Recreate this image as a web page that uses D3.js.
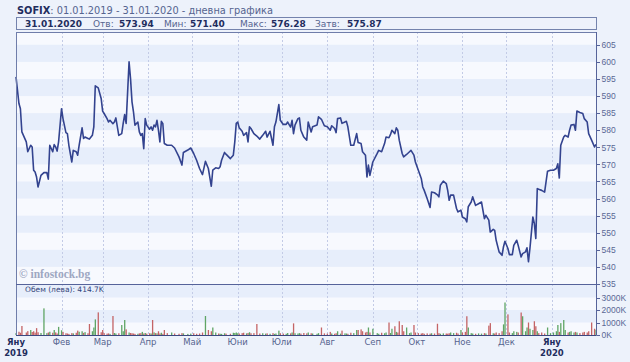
<!DOCTYPE html>
<html lang="bg">
<head>
    <meta charset="UTF-8">
    <title>SOFIX - дневна графика</title>
    <style>
        body {
            margin: 0;
            background-color: #edf2fb;
            font-family: "DejaVu Sans", Verdana, sans-serif;
        }
        .axis text {
            font-size: 8.5px;
            fill: #5a6895;
        }
        .axis line, .axis path {
            stroke: #56639a;
            shape-rendering: crispEdges;
        }
        .grid line {
            stroke: #c3cbe6;
            stroke-dasharray: 2,2;
            shape-rendering: crispEdges;
        }
    </style>
    <script src="https://d3js.org/d3.v7.min.js"></script>
</head>
<body>
<div id="chart"></div>

<script>
    // days counted from 01.01.2019
    var dayOffsets = [
        0, 2, 3, 4, 7, 8, 10, 11, 12, 13, 14, 15, 17, 19, 21, 22, 23, 25, 26, 27, 28, 29, 31, 32, 34, 35, 36, 38, 39, 41,
        42, 43, 45, 46, 47, 49, 50, 52, 53, 54, 56, 58, 59, 60, 62, 63, 64, 66, 67, 68, 70, 72, 73, 74, 75, 77, 78, 79, 80, 81,
        83, 84, 85, 86, 87, 88, 89, 91, 92, 93, 94, 95, 96, 97, 98, 99, 100,
        101, 103, 106, 108, 111, 113, 114, 117, 119, 121, 123, 125, 127, 129, 131, 133, 134, 136, 138, 139, 140, 142, 143, 146,
        148, 149, 150, 151, 152, 154, 155, 157, 158, 159, 160, 162, 164, 166, 168, 170, 171, 173, 175, 176, 177, 179, 180, 182, 184,
        185, 187, 188, 189, 190, 192, 193, 194, 196, 198, 199,
        201, 202, 205, 206, 208, 210, 212, 214, 215, 217, 218, 219, 221, 222, 224, 225, 226, 228, 230, 232, 233, 235, 236, 238, 239,
        240, 241, 243, 246, 247, 249, 251, 252, 254, 255, 256, 258, 259, 260, 261, 263, 264, 266, 268, 269, 271, 272, 274, 276, 277,
        278, 280, 282, 283, 285, 287, 288, 289, 291, 293, 294, 295, 296, 298,
        300, 301, 303, 304, 306, 307, 308, 310, 311, 313, 315, 317, 319, 320, 322, 323, 325, 326, 327, 329, 331, 332, 333, 335, 336,
        338, 339, 341, 342, 344, 345, 347, 348, 349, 350, 352, 353, 354, 355, 356, 358, 360, 362, 364, 366, 368, 369, 370, 371, 373,
        374, 376, 377, 378, 380, 381, 382, 384, 386, 387, 389, 390, 392, 394, 395
    ];
    var closes = [
        595.6, 587.8, 586.3, 579.5, 576.6, 573.7, 575.6, 575.1, 568.3, 567.8, 566.3, 563.4, 566.8, 567.6, 567.6, 565.7, 575.6, 573.7, 575.8, 575.1, 573.9, 576.6, 586.3, 583.4, 579.3, 579.0, 575.6, 570.7, 574.1, 573.7,
        572.7, 575.6, 580.7, 577.6, 578.0, 577.6, 577.4, 578.5, 581.0, 593.0, 592.4, 589.3, 585.6, 584.9, 583.4, 582.4, 582.9, 581.9, 582.4, 583.6, 578.5, 579.0, 582.0, 584.6, 582.0, 600.0, 595.1, 588.3, 585.4, 581.5,
        582.4, 579.5, 578.5, 579.0, 574.6, 583.4, 581.5, 580.3, 581.0, 580.0, 581.5, 581.0, 582.9, 580.0, 576.6, 582.6, 581.9,
        576.1, 575.6, 575.6, 574.8, 572.2, 569.8, 573.5, 574.2, 574.8, 573.2, 571.2, 568.8, 567.0, 570.9, 568.8, 563.6, 568.3, 569.0, 568.8, 569.3, 571.2, 573.5, 573.0, 571.7,
        572.7, 576.6, 582.0, 582.4, 580.7, 579.7, 578.5, 579.3, 576.6, 581.0, 580.5, 579.0, 578.3, 577.4, 578.5, 579.7, 578.0, 579.7, 575.6, 581.0, 582.4, 587.5, 582.9, 581.7, 581.7,
        582.4, 580.9, 582.9, 579.0, 581.5, 583.4, 583.6, 580.0, 578.0, 577.1, 582.4,
        579.5, 581.0, 581.5, 583.9, 583.2, 581.3, 581.0, 580.0, 581.3, 580.5, 579.3, 583.4, 583.6, 582.0, 582.4, 582.6, 581.0, 575.6, 575.6, 579.0, 576.4, 576.1, 573.7, 572.7, 566.3,
        569.8, 566.8, 570.7, 573.2, 574.1, 573.7, 576.1, 578.0, 577.8, 578.7, 580.0, 579.0, 580.7, 580.0, 577.1, 573.2, 572.2, 572.9, 573.7, 574.1, 572.7, 570.7, 568.3, 565.9, 563.4,
        562.4, 560.0, 557.4, 561.9, 561.7, 561.1, 560.5, 563.9, 565.1, 564.4, 562.4, 559.5, 561.0, 561.0,
        557.1, 556.1, 556.6, 554.6, 554.1, 553.2, 557.6, 559.0, 560.5, 558.0, 558.5, 559.0, 554.1, 555.1, 553.7, 550.2, 551.0, 550.7, 547.8, 544.4, 543.4, 545.9, 547.5, 545.4, 543.6,
        543.6, 546.3, 547.8, 546.3, 542.9, 543.9, 544.4, 545.6, 541.5, 545.4, 554.6, 552.7, 548.3, 562.9, 562.7, 562.4, 561.9, 568.0, 568.3, 568.3, 568.8, 570.2, 566.0, 575.6, 578.0,
        578.5, 578.0, 580.0, 581.5, 581.7, 580.0, 585.6, 585.2, 584.9, 583.4, 582.4, 579.0, 577.1, 575.1, 575.87
    ];
    // volume in thousands of leva
    var volumes = [
        150, 260, 180, 720, 200, 310, 400, 240, 300, 190, 550, 220, 160, 2130, 150, 200, 260, 180, 400, 210, 120, 650, 380, 250, 140, 120, 90, 150, 130, 180,
        350, 260, 300, 170, 230, 140, 880, 300, 600, 1250, 1810, 220, 400, 150, 110, 130, 90, 1520, 160, 120, 140, 800, 300, 1200, 450, 200, 160, 140, 120, 90,
        100, 130, 150, 250, 120, 160, 110, 140, 120, 1200, 210, 150, 130, 300, 120, 180, 90,
        400, 150, 200, 120, 100, 150, 130, 90, 110, 140, 100, 120, 200, 1520, 400, 300, 600, 200, 120, 100, 90, 140, 110, 100,
        180, 160, 200, 140, 120, 150, 180, 130, 160, 220, 140, 150, 880, 120, 140, 110, 130, 100, 150, 90, 120, 350, 140, 110, 100,
        160, 130, 200, 930, 140, 120, 150, 110, 160, 130, 200,
        140, 120, 100, 150, 600, 130, 110, 250, 120, 100, 140, 300, 110, 350, 130, 120, 100, 180, 150, 400, 400, 450, 300, 200, 250,
        600, 200, 500, 150, 100, 180, 140, 200, 1000, 160, 500, 700, 250, 200, 1100, 800, 300, 600, 150, 200, 800, 200, 150, 120, 150,
        100, 130, 110, 140, 120, 900, 150, 100, 130, 120, 110, 140, 200, 150,
        180, 120, 400, 200, 250, 1500, 600, 150, 120, 100, 130, 110, 150, 120, 750, 950, 140, 120, 200, 150, 300, 850, 2600, 1650, 200,
        150, 300, 250, 200, 1800, 1500, 300, 600, 1000, 500, 400, 1100, 700, 300, 150, 200, 120, 600, 150, 200, 300, 800, 250, 950, 1200,
        400, 200, 250, 300, 200, 250, 200, 150, 200, 250, 200, 300, 1000, 500, 414.7
    ];
    var monthLabels = ["Яну", "Фев", "Мар", "Апр", "Май", "Юни", "Юли", "Авг", "Сеп", "Окт", "Ное", "Дек", "Яну"];
    var yearLabels = ["2019", "2020"];
    var priceTicks = [535, 540, 545, 550, 555, 560, 565, 570, 575, 580, 585, 590, 595, 600, 605];
    var volumeTicks = [0, 1000, 2000, 3000];
    var headerDate = "31.01.2020";
    var headerNames = ["Отв:", "Мин:", "Макс:", "Затв:"];
    var headerValues = ["573.94", "571.40", "576.28", "575.87"];

    var navy = "#1f2d5e", soft = "#55648f";
    var W = 630, H = 362;
    var left = 16, right = 596, plotTop = 32, plotBottom = 284, volBottom = 335;

    var start = new Date(2019, 0, 1), end = new Date(2020, 0, 31);
    var data = dayOffsets.map(function (d, i) {
        return {date: d3.timeDay.offset(start, d), close: closes[i], vol: volumes[i],
            up: i === 0 ? true : closes[i] >= closes[i - 1]};
    });

    var x = d3.scaleTime().domain([start, end]).range([left, right]);
    var y = d3.scaleLinear().domain([535, 605]).range([plotBottom, 44.8]);
    var yv = d3.scaleLinear().domain([0, 4080]).range([volBottom, plotBottom]);

    var svg = d3.select("#chart").append("svg")
        .attr("width", W)
        .attr("height", H);

    // title
    var title = svg.append("text").attr("x", 17).attr("y", 13.5).style("font-size", "9.8px");
    title.append("tspan").attr("font-weight", "bold").attr("fill", navy).text("SOFIX");
    title.append("tspan").attr("fill", soft).text(": 01.01.2019 - 31.01.2020 - дневна графика");

    // header box with last day values
    svg.append("rect")
        .attr("x", left + 0.5).attr("y", 17.5)
        .attr("width", right - left).attr("height", 12)
        .attr("fill", "#eef2fb").attr("stroke", "#7483ad");
    var headX = [25, 93, 119, 164, 190, 240, 271, 315, 347];
    var headParts = [headerDate];
    headerNames.forEach(function (n, i) { headParts.push(n, headerValues[i]); });
    svg.append("g").selectAll("text")
        .data(headParts)
        .enter().append("text")
        .attr("x", function (d, i) { return headX[i]; })
        .attr("y", 27)
        .style("font-size", "9px")
        .attr("font-weight", function (d, i) { return i % 2 === 0 ? "bold" : "normal"; })
        .attr("fill", function (d, i) { return i % 2 === 0 ? navy : soft; })
        .text(function (d) { return d; });

    // price panel stripes
    var bands = d3.range(535, 605, 5);
    svg.append("rect").attr("x", left).attr("y", plotTop)
        .attr("width", right - left).attr("height", volBottom - plotTop).attr("fill", "#f7f9fe");
    svg.append("g").selectAll("rect")
        .data(bands.filter(function (b) { return (605 - b) % 10 === 5; }))
        .enter().append("rect")
        .attr("x", left).attr("width", right - left)
        .attr("y", function (b) { return y(b + 5); })
        .attr("height", function (b) { return y(b) - y(b + 5); })
        .attr("fill", "#e7eefb");

    // volume panel stripes
    svg.append("g").selectAll("rect")
        .data([1000, 3000])
        .enter().append("rect")
        .attr("x", left).attr("width", right - left)
        .attr("y", function (v) { return v === 3000 ? plotBottom : yv(v + 1000); })
        .attr("height", function (v) { return v === 3000 ? yv(3000) - plotBottom : yv(v) - yv(v + 1000); })
        .attr("fill", "#e7eefb");

    // month grid
    var months = d3.timeMonth.range(start, d3.timeDay.offset(end, 1));
    svg.append("g").attr("class", "grid").selectAll("line")
        .data(months.slice(1))
        .enter().append("line")
        .attr("x1", function (d) { return Math.round(x(d)) + 0.5; })
        .attr("x2", function (d) { return Math.round(x(d)) + 0.5; })
        .attr("y1", plotTop).attr("y2", volBottom);

    // watermark
    svg.append("text").attr("x", 19).attr("y", 278)
        .style("font-family", "'Liberation Serif', 'DejaVu Serif', serif")
        .style("font-size", "11.5px").style("font-weight", "bold")
        .attr("fill", "#9ea7c2").text("© infostock.bg");

    // volume bars
    svg.append("g").selectAll("rect")
        .data(data)
        .enter().append("rect")
        .attr("x", function (d) { return x(d.date) - 0.6; })
        .attr("width", 1.3)
        .attr("y", function (d) { return yv(d.vol); })
        .attr("height", function (d) { return volBottom - yv(d.vol); })
        .attr("fill", function (d) { return d.up ? "#5fa565" : "#c46466"; });

    svg.append("text").attr("x", 25).attr("y", 292)
        .style("font-size", "7.5px").attr("fill", "#34447a")
        .text("Обем (лева): " + d3.format(".1f")(volumes[volumes.length - 1]) + "K");

    // price line
    var line = d3.line()
        .x(function (d) { return x(d.date); })
        .y(function (d) { return y(d.close); });
    svg.append("path")
        .datum(data)
        .attr("fill", "none")
        .attr("stroke", "#33438f")
        .attr("stroke-width", 1.6)
        .attr("stroke-linejoin", "round")
        .attr("d", line);

    // frame
    svg.append("rect").attr("x", left + 0.5).attr("y", plotTop + 0.5)
        .attr("width", right - left).attr("height", volBottom - plotTop)
        .attr("fill", "none").attr("stroke", "#6f7daa").style("shape-rendering", "crispEdges");
    svg.append("line").attr("x1", left).attr("x2", right).attr("y1", plotBottom + 0.5).attr("y2", plotBottom + 0.5)
        .attr("stroke", "#56639a");
    svg.append("line").attr("x1", left).attr("x2", right).attr("y1", volBottom + 0.5).attr("y2", volBottom + 0.5)
        .attr("stroke", "#3c4880").attr("stroke-width", 1);

    // right axes
    svg.append("g").attr("class", "axis")
        .attr("transform", "translate(" + (right + 0.5) + ",0)")
        .call(d3.axisRight(y).tickValues(priceTicks).tickSize(3).tickPadding(2))
        .call(function (g) { g.select(".domain").attr("d", "M0," + plotTop + "V" + volBottom); });
    svg.append("g").attr("class", "axis")
        .attr("transform", "translate(" + (right + 0.5) + ",0)")
        .call(d3.axisRight(yv).tickValues(volumeTicks).tickSize(3).tickPadding(2)
            .tickFormat(function (v) { return v + "K"; }))
        .call(function (g) { g.select(".domain").remove(); });

    // month labels
    svg.append("g").selectAll("text")
        .data(months)
        .enter().append("text")
        .attr("x", function (d) { return x(d); })
        .attr("y", 345)
        .attr("text-anchor", "middle")
        .style("font-size", "8.5px")
        .attr("font-weight", function (d) { return d.getMonth() === 0 ? "bold" : "normal"; })
        .attr("fill", function (d) { return d.getMonth() === 0 ? navy : soft; })
        .text(function (d, i) { return monthLabels[i]; });
    svg.append("g").selectAll("text")
        .data([months[0], months[12]])
        .enter().append("text")
        .attr("x", function (d) { return x(d); })
        .attr("y", 356)
        .attr("text-anchor", "middle")
        .style("font-size", "8.5px")
        .attr("font-weight", "bold")
        .attr("fill", navy)
        .text(function (d, i) { return yearLabels[i]; });
</script>
</body>
</html>
